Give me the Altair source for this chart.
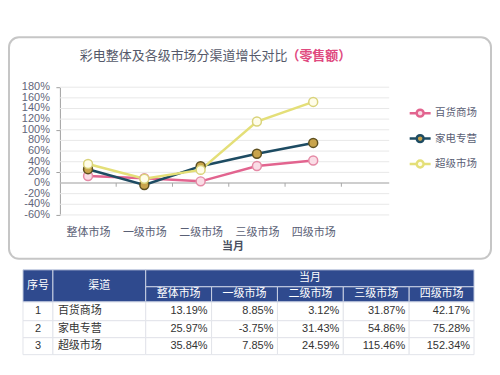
import altair as alt
import pandas as pd

# ---------------- data ----------------
categories = ["整体市场", "一级市场", "二级市场", "三级市场", "四级市场"]
series_names = ["百货商场", "家电专营", "超级市场"]
baihuo = [13.19, 8.85, 3.12, 31.87, 42.17]
jiadian = [25.97, -3.75, 31.43, 54.86, 75.28]
chaoshi = [35.84, 7.85, 24.59, 115.46, 152.34]
y_ticks = [-60, -40, -20, 0, 20, 40, 60, 80, 100, 120, 140, 160, 180]
title_main = "彩电整体及各级市场分渠道增长对比"
title_note = "（零售额）"
x_title = "当月"
hdr_index = "序号"
hdr_channel = "渠道"
hdr_period = "当月"

# ---------------- styles ----------------
FONT = "Liberation Sans, Noto Sans CJK SC"
line_colors = ["#E2648F", "#1D4B62", "#E4DF78"]
point_fills = ["#FADDE6", "#C9A44C", "#FFFDE9"]
point_strokes = ["#E58AA6", "#5E5020", "#D9D37A"]
NAVY = "#2F4A8E"
TXT = "#5A6075"

values = [baihuo, jiadian, chaoshi]
rows = []
for s, vals in zip(series_names, values):
    for i, (c, v) in enumerate(zip(categories, vals)):
        rows.append({"series": s, "category": c, "idx": i, "value": v})
df = pd.DataFrame(rows)
bound_df = pd.DataFrame({"idx": [i + 0.5 for i in range(len(categories))]})
grid_df = pd.DataFrame({"value": y_ticks, "label": [f"{t}%" for t in y_ticks]})
one = pd.DataFrame({"k": [0]})

label_expr = "[" + ",".join("'%s'" % c for c in categories) + "][datum.value]"
xscale = alt.Scale(domain=[-0.5, 5.35], nice=False, zero=False)
yscale = alt.Scale(domain=[-60, 180], nice=False, zero=False)

X = alt.X("idx:Q", scale=xscale,
          axis=alt.Axis(title=x_title, values=list(range(len(categories))), labelExpr=label_expr,
                        domain=False, ticks=False, grid=False, labelAngle=0,
                        labelFlush=False, labelOverlap=False,
                        labelFontSize=11, labelColor=TXT, labelPadding=12,
                        titleFontSize=11, titleColor="#4A4F60", titleFontWeight="bold",
                        titleX=173, titleY=32, titleBaseline="middle", titleAlign="center"))
Y = alt.Y("value:Q", scale=yscale,
          axis=alt.Axis(title=None, values=y_ticks, labels=False, grid=False,
                        domainColor="#A0A0A0", tickColor="#A0A0A0", tickSize=4))

legend_path = ("M-1,0L-0.33,0M0.33,0L1,0M0.33,0A0.33,0.33,0,1,1,-0.33,0"
               "A0.33,0.33,0,1,1,0.33,0Z")

grid = alt.Chart(grid_df).mark_rule(color="#E8E8E8", strokeWidth=1).encode(y=Y)
y_labels = alt.Chart(grid_df).mark_text(align="right", baseline="middle", fontSize=11,
                                        color="#62667A", font=FONT).encode(
    x=alt.value(-10), y=Y, text="label:N")
lines = alt.Chart(df).mark_line(strokeWidth=2.5).encode(
    x=X, y=Y,
    color=alt.Color("series:N", sort=series_names,
                    scale=alt.Scale(domain=series_names, range=line_colors),
                    legend=alt.Legend(title=None, orient="none", legendX=349, legendY=14,
                                      symbolType=legend_path, symbolSize=441,
                                      symbolStrokeWidth=2.5, symbolFillColor="white",
                                      labelFontSize=10.5, labelColor=TXT, labelOffset=3,
                                      rowPadding=4.5, padding=0)),
    order="idx:Q",
)
points = alt.Chart(df).mark_circle(size=80, strokeWidth=1.5, opacity=1).encode(
    x=X, y=Y,
    fill=alt.Fill("series:N", scale=alt.Scale(domain=series_names, range=point_fills), legend=None),
    stroke=alt.Stroke("series:N", scale=alt.Scale(domain=series_names, range=point_strokes), legend=None),
)
zero_line = alt.Chart(one).mark_rule(color="#A8A8A8", strokeWidth=1).encode(y=alt.datum(0))
tick_rules = alt.Chart(bound_df).mark_rule(color="#A8A8A8").encode(
    x=X, y=alt.datum(0), y2=alt.datum(-7))

chart_group = alt.layer(grid, y_labels, zero_line, tick_rules, lines, points)

# frame and title (decoration)
frame = alt.Chart(one).mark_rect(fill=None, stroke="#C6C6C6", strokeWidth=2, cornerRadius=10).encode(
    x=alt.value(-51), x2=alt.value(432), y=alt.value(-50), y2=alt.value(172))
t1 = alt.Chart(one).mark_text(align="left", baseline="middle", fontSize=13, color="#55596A",
                              font=FONT).encode(x=alt.value(20), y=alt.value(-31), text=alt.value(title_main))
t2 = alt.Chart(one).mark_text(align="left", baseline="middle", fontSize=13, color="#E04A80",
                              fontWeight="bold", font=FONT).encode(
    x=alt.value(227), y=alt.value(-31), text=alt.value(title_note))

# ---------------- table ----------------
col_edges = [0, 30, 123, 189, 255, 321, 387, 452]
row_edges = [0, 17, 32, 51, 68, 85]

hdr_cells = [
    {"x": col_edges[0], "x2": col_edges[1], "y": row_edges[0], "y2": row_edges[2], "label": hdr_index},
    {"x": col_edges[1], "x2": col_edges[2], "y": row_edges[0], "y2": row_edges[2], "label": hdr_channel},
    {"x": col_edges[2], "x2": col_edges[7], "y": row_edges[0], "y2": row_edges[1], "label": hdr_period},
]
for i, c in enumerate(categories):
    hdr_cells.append({"x": col_edges[2 + i], "x2": col_edges[3 + i], "y": row_edges[1], "y2": row_edges[2], "label": c})
hdr_df = pd.DataFrame(hdr_cells)
hdr_df["tx"] = (hdr_df["x"] + hdr_df["x2"]) / 2
hdr_df["ty"] = (hdr_df["y"] + hdr_df["y2"]) / 2

data_cells = []
for r, (s, vals) in enumerate(zip(series_names, values)):
    y0, y1 = row_edges[2 + r], row_edges[3 + r]
    data_cells.append({"x": col_edges[0], "x2": col_edges[1], "y": y0, "y2": y1, "label": str(r + 1), "al": "center"})
    data_cells.append({"x": col_edges[1], "x2": col_edges[2], "y": y0, "y2": y1, "label": s, "al": "left"})
    for i, v in enumerate(vals):
        data_cells.append({"x": col_edges[2 + i], "x2": col_edges[3 + i], "y": y0, "y2": y1,
                           "label": f"{v:.2f}%", "al": "right"})
data_df = pd.DataFrame(data_cells)
data_df["ty"] = (data_df["y"] + data_df["y2"]) / 2
data_df["tx"] = data_df.apply(lambda d: (d["x"] + d["x2"]) / 2 if d["al"] == "center"
                              else (d["x"] if d["al"] == "left" else d["x2"]), axis=1)

tx_scale = alt.Scale(domain=[0, 452], range=[-37, 415], nice=False, zero=False)
ty_scale = alt.Scale(domain=[0, 85], range=[183, 268], nice=False, zero=False)

def cell_rects(d, fill, stroke):
    return alt.Chart(d).mark_rect(fill=fill, stroke=stroke, strokeWidth=1).encode(
        x=alt.X("x:Q", scale=tx_scale, axis=None), x2="x2:Q",
        y=alt.Y("y:Q", scale=ty_scale, axis=None), y2="y2:Q")

def cell_text(d, align, color, dx=0):
    return alt.Chart(d).mark_text(align=align, baseline="middle", fontSize=11, color=color,
                                  font=FONT, dx=dx).encode(
        x=alt.X("tx:Q", scale=tx_scale, axis=None),
        y=alt.Y("ty:Q", scale=ty_scale, axis=None),
        text="label:N")

table_group = alt.layer(
    cell_rects(data_df, "white", "#E2E4EA"),
    cell_rects(hdr_df, NAVY, "#C9D1E4"),
    cell_text(hdr_df, "center", "white"),
    cell_text(data_df[data_df["al"] == "center"], "center", "#333333"),
    cell_text(data_df[data_df["al"] == "left"], "left", "#333333", dx=5),
    cell_text(data_df[data_df["al"] == "right"], "right", "#333333", dx=-4),
)

chart = alt.layer(frame, t1, t2, chart_group, table_group).resolve_scale(
    x="independent", y="independent"
).properties(
    width=330, height=128,
    background="white",
    padding={"left": 0, "top": 28, "right": 0, "bottom": 0},
).configure(font=FONT).configure_view(stroke=None).configure_axis(
    labelOverlap=False, labelFlush=False
)

chart.save("out.html", embed_options={"renderer": "svg", "actions": False})
